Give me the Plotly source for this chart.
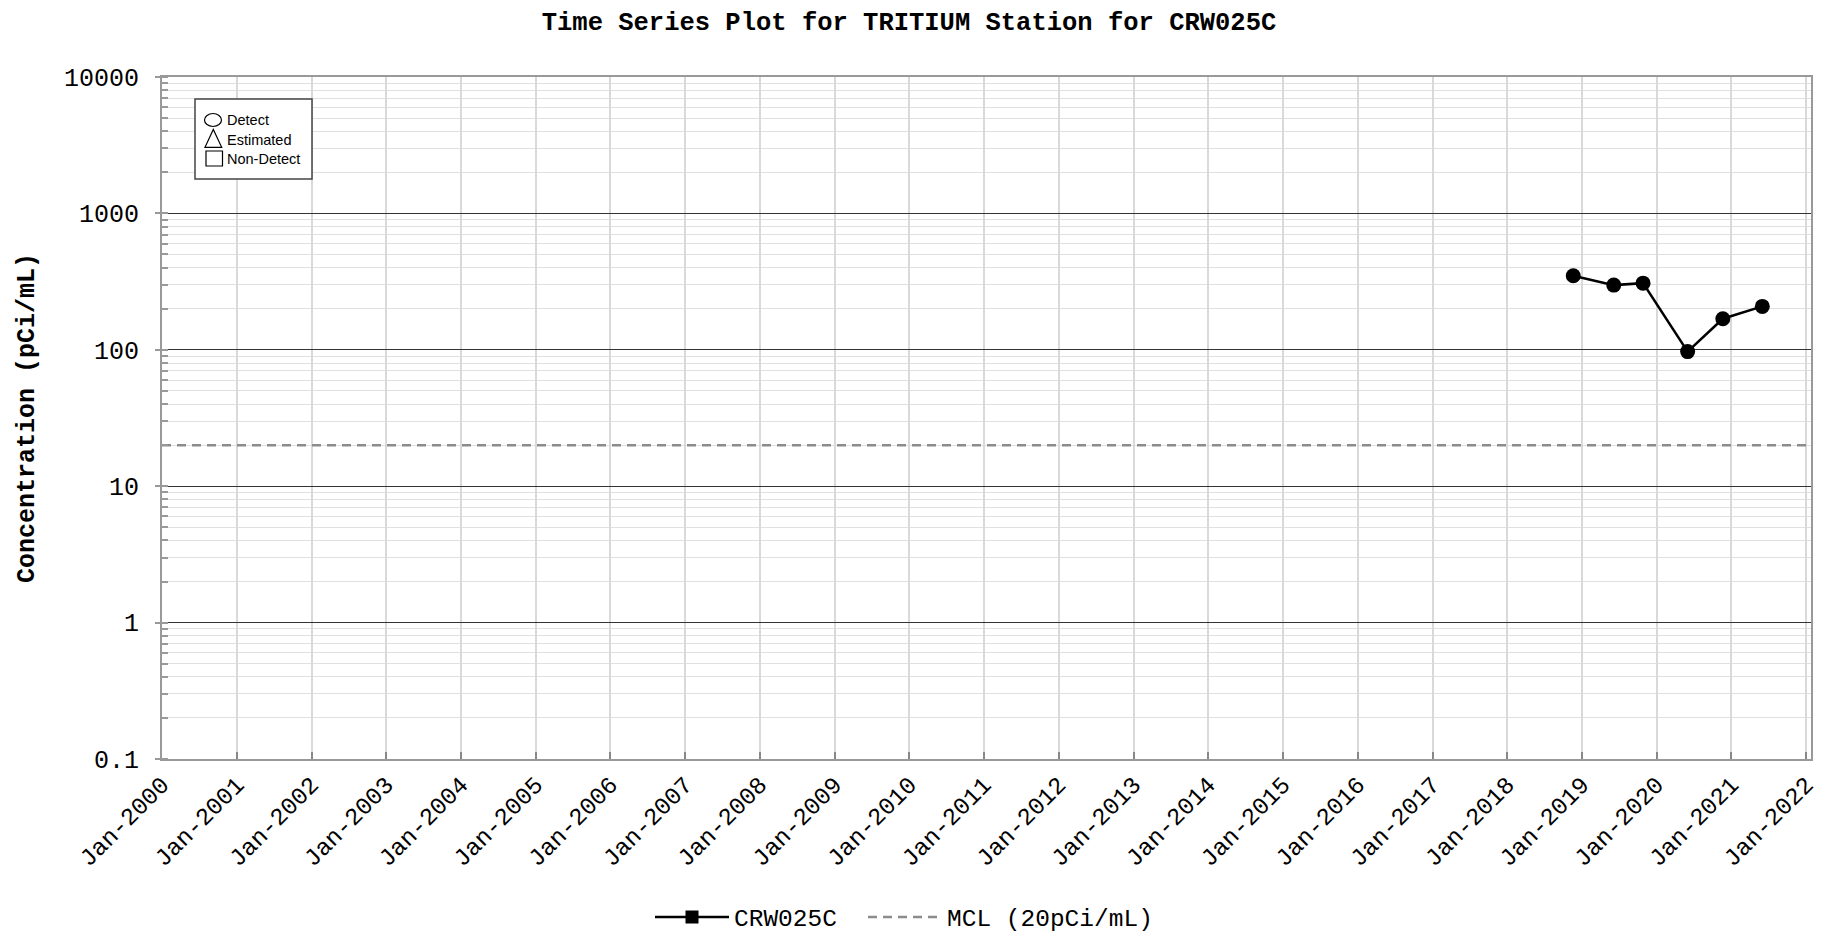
import plotly.graph_objects as go

# ---- data ----
sample_dates = ["2018-11-20", "2019-06-06", "2019-10-27", "2020-06-01", "2020-11-20", "2021-06-01"]
tritium_values = [349, 298, 308, 97, 169, 208]
mcl_value = 20
x_range = ["2000-01-01", "2022-01-25"]
year_ticks = [f"{y}-01-01" for y in range(2000, 2023)]
year_labels = [f"Jan-{y}" for y in range(2000, 2023)]
y_tickvals = [0.1, 1, 10, 100, 1000, 10000]
y_ticktext = ["0.1", "1", "10", "100", "1000", "10000"]
key_labels = ["Detect", "Estimated", "Non-Detect"]

# ---- layout geometry (page pixels; page body has an 8px margin) ----
O = 8
PAGE_W, PAGE_H = 1833, 942
W, H = PAGE_W - 2 * O, PAGE_H - 2 * O
L, R, T, B = 162 - O, 1811 - O, 77 - O, 759 - O
PW, PH = R - L, B - T

def px(x):
    return (x - O - L) / PW

def py(y):
    return (B - (y - O)) / PH

MONO = "Liberation Mono"
DASH = "9px,6px"

fig = go.Figure()

fig.add_trace(go.Scatter(
    x=x_range, y=[mcl_value, mcl_value], mode="lines",
    line=dict(color="#8c8c8c", width=2.5, dash=DASH),
    name="MCL (20pCi/mL)", showlegend=False, hoverinfo="skip"))

fig.add_trace(go.Scatter(
    x=sample_dates, y=tritium_values, mode="lines+markers",
    line=dict(color="black", width=2.5),
    marker=dict(symbol="circle", size=15, color="black"),
    name="CRW025C", showlegend=False))

# legend entries
fig.add_trace(go.Scatter(
    x=[None], y=[None], mode="lines+markers",
    line=dict(color="black", width=2.5),
    marker=dict(symbol="square", size=13, color="black"),
    name="CRW025C", legend="legend"))
fig.add_trace(go.Scatter(
    x=[None], y=[None], mode="lines",
    line=dict(color="#8c8c8c", width=2.5, dash=DASH),
    name="MCL (20pCi/mL)", legend="legend2"))

leg_common = dict(orientation="h", xref="container", yref="container",
                  xanchor="left", y=1 - (917 - O) / H, yanchor="middle",
                  font=dict(family=MONO, size=24.5, color="black"),
                  itemwidth=74, bgcolor="rgba(0,0,0,0)")

fig.update_layout(
    width=W, height=H,
    margin=dict(l=L, r=W - R, t=T, b=H - B, autoexpand=False),
    paper_bgcolor="white", plot_bgcolor="white",
    title=dict(text="<b>Time Series Plot for TRITIUM Station for CRW025C</b>",
               x=(909 - O) / W, xanchor="center", xref="container",
               y=1 - (21 - O) / H, yanchor="middle", yref="container",
               font=dict(family=MONO, size=25.5, color="black")),
    showlegend=True,
    legend=dict(x=(650 - O) / W, **leg_common),
    legend2=dict(x=(863 - O) / W, **leg_common),
    font=dict(family=MONO, color="black"),
)

fig.update_xaxes(
    type="date", range=x_range,
    tickvals=year_ticks, ticktext=year_labels, tickangle=-45,
    tickfont=dict(family=MONO, size=24, color="black"),
    ticks="inside", ticklen=7, tickwidth=2, tickcolor="#888",
    showgrid=True, gridcolor="#d9d9d9", gridwidth=1.5,
    showline=True, linecolor="#999", linewidth=2, mirror=True,
    zeroline=False,
)

fig.update_yaxes(
    type="log", range=[-1, 4],
    tickvals=y_tickvals, ticktext=y_ticktext,
    tickfont=dict(family=MONO, size=25, color="black"),
    ticks="outside", ticklen=5, tickwidth=1.5, tickcolor="#999",
    ticklabelstandoff=11,
    showgrid=True, gridcolor="#333", gridwidth=1,
    showline=True, linecolor="#999", linewidth=2, mirror=True,
    zeroline=False,
    minor=dict(dtick="D1", showgrid=True, gridcolor="#e0e0e0", gridwidth=1,
               ticks="inside", ticklen=6, tickcolor="#999", tickwidth=1.5),
    title=dict(text="<b>Concentration (pCi/mL)</b>",
               font=dict(family=MONO, size=25, color="black"), standoff=22),
)

# ---- inner key box ----
fig.add_shape(type="rect", xref="paper", yref="paper",
              x0=px(195), x1=px(312), y0=py(179), y1=py(99),
              line=dict(color="#444", width=1.5), fillcolor="white", layer="above")
fig.add_shape(type="circle", xref="paper", yref="paper",
              x0=px(204.5), x1=px(221.5), y0=py(126.5), y1=py(113.5),
              line=dict(color="black", width=1.2), layer="above")
fig.add_shape(type="path", xref="paper", yref="paper",
              path=f"M {px(205)},{py(147.3)} L {px(221.7)},{py(147.3)} L {px(213.3)},{py(129.5)} Z",
              line=dict(color="black", width=1.2), layer="above")
fig.add_shape(type="rect", xref="paper", yref="paper",
              x0=px(206), x1=px(222.5), y0=py(166), y1=py(151),
              line=dict(color="black", width=1.2), layer="above")
for lbl, yc in zip(key_labels, [120, 140, 159]):
    fig.add_annotation(text=lbl, xref="paper", yref="paper",
                       x=px(225), y=py(yc), xanchor="left", yanchor="middle",
                       showarrow=False,
                       font=dict(family="Liberation Sans", size=14.5, color="black"))

fig.write_html("out.html")
